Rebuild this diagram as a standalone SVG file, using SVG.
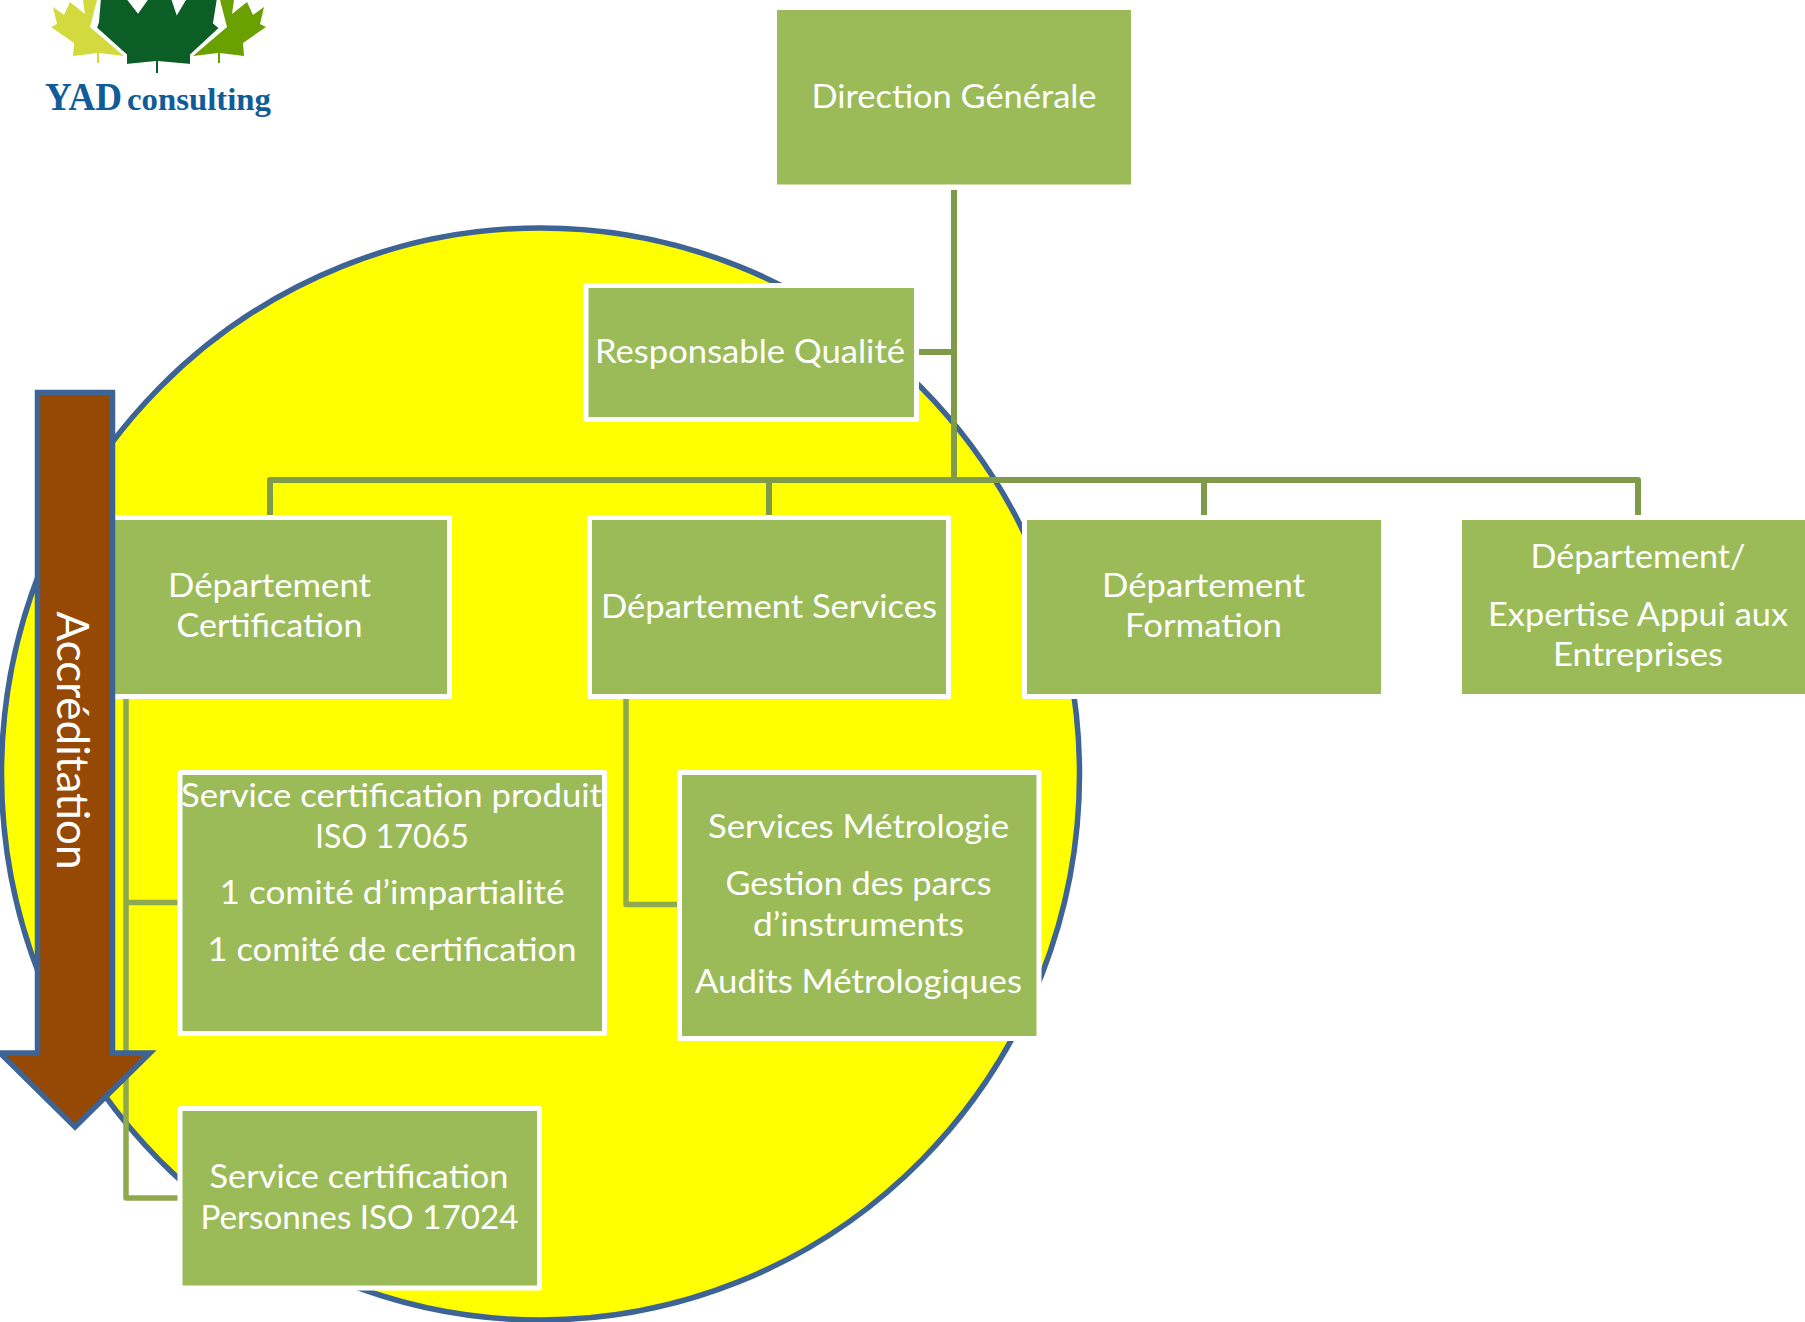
<svg xmlns="http://www.w3.org/2000/svg" width="1805" height="1322" viewBox="0 0 1805 1322">
<style>
.box{fill:#9bbb59;stroke:#fff;stroke-width:5;stroke-linejoin:round}
.t{fill:#fff;font-family:Lato,"Liberation Sans",sans-serif;font-size:33px;text-anchor:middle}
.c1{fill:none;stroke:#7f9a48;stroke-width:6;stroke-linejoin:round}
.c2{fill:none;stroke:#8fa94f;stroke-width:5.5;stroke-linejoin:round}
.blue{stroke:#3d6494;stroke-width:5.500}
</style>
<rect width="1805" height="1322" fill="#fff"/>
<ellipse id="zone" class="blue" cx="540.500" cy="774" rx="539" ry="546" fill="#ffff00"/>
<g id="logo">
<path fill="#d3da3e" d="M83 0L85 14L70 2L64 15L53 7L57 24L51 27L74 43L73 56L97 53L97 63L99 63L99 53L124 56L90 27L97 0Z"/>
<path fill="#6aa000" d="M234 0L232 14L247 2L253 15L264 7L260 24L266 27L243 43L244 56L220 53L220 63L218 63L218 53L193 56L227 27L220 0Z"/>
<path fill="#0b5e25" stroke="#fff" stroke-width="2" d="M100 -2L98 22L96 28L126 55L126 65L155 62L155 74L159 74L159 62L191 65L191 55L220 28L214 23L218 -2L186 -2L177 13L172 -2L148 -2L138 12L127 -2Z"/>
<text x="45" y="110" font-family="'Liberation Serif',serif" font-weight="700" font-size="39" fill="#0f5c98" textLength="77" lengthAdjust="spacingAndGlyphs">YAD</text>
<text x="127" y="110" font-family="'Liberation Serif',serif" font-weight="700" font-size="31" fill="#0f5c98" textLength="144" lengthAdjust="spacingAndGlyphs">consulting</text>
</g>
<g id="connectors">
<path class="c1" d="M954 190V480M919 352H954M270 516V480H1638V516M769 480V516M1204 480V516"/>
<path class="c2" d="M126 699V1198H178M126 902.500H178M626 699V904.500H678"/>
</g>
<g id="n1"><rect class="box" x="774.5" y="7.5" width="359" height="179.5"/><text class="t" x="954" y="107.500" textLength="285" lengthAdjust="spacingAndGlyphs">Direction Générale</text></g>
<g id="n2"><rect class="box" x="586" y="285.5" width="330.5" height="134"/><text class="t" x="750" y="363" textLength="310" lengthAdjust="spacingAndGlyphs">Responsable Qualité</text></g>
<g id="n3"><rect class="box" x="90.5" y="517.5" width="359" height="179"/><text class="t" x="269.500" y="597" textLength="203" lengthAdjust="spacingAndGlyphs">Département</text><text class="t" x="269.500" y="637" textLength="186" lengthAdjust="spacingAndGlyphs">Certification</text></g>
<g id="n4"><rect class="box" x="589.5" y="517.5" width="359" height="179"/><text class="t" x="769" y="618" textLength="336" lengthAdjust="spacingAndGlyphs">Département Services</text></g>
<g id="n5"><rect class="box" x="1024.5" y="517.5" width="359" height="179"/><text class="t" x="1203.500" y="597" textLength="203" lengthAdjust="spacingAndGlyphs">Département</text><text class="t" x="1203.500" y="637" textLength="157" lengthAdjust="spacingAndGlyphs">Formation</text></g>
<g id="n6"><rect class="box" x="1459.5" y="517.5" width="359" height="179"/><text class="t" x="1638" y="568" textLength="215" lengthAdjust="spacingAndGlyphs">Département/</text><text class="t" x="1638" y="626" textLength="300" lengthAdjust="spacingAndGlyphs">Expertise Appui aux</text><text class="t" x="1638" y="666" textLength="170" lengthAdjust="spacingAndGlyphs">Entreprises</text></g>
<g id="n7"><rect class="box" x="180" y="772.5" width="424.5" height="261"/><text class="t" x="391.500" y="807" textLength="421" lengthAdjust="spacingAndGlyphs">Service certification produit</text><text class="t" x="392" y="848" textLength="154" lengthAdjust="spacingAndGlyphs">ISO 17065</text><text class="t" x="392" y="904" textLength="345" lengthAdjust="spacingAndGlyphs">1 comité d’impartialité</text><text class="t" x="392" y="961" textLength="369" lengthAdjust="spacingAndGlyphs">1 comité de certification</text></g>
<g id="n8"><rect class="box" x="679.5" y="772.5" width="359.500" height="266"/><text class="t" x="858.500" y="838" textLength="301" lengthAdjust="spacingAndGlyphs">Services Métrologie</text><text class="t" x="858.500" y="895" textLength="266" lengthAdjust="spacingAndGlyphs">Gestion des parcs</text><text class="t" x="858.500" y="936" textLength="211" lengthAdjust="spacingAndGlyphs">d’instruments</text><text class="t" x="858.500" y="993" textLength="327" lengthAdjust="spacingAndGlyphs">Audits Métrologiques</text></g>
<g id="n9"><rect class="box" x="180" y="1108.5" width="359.500" height="179.5"/><text class="t" x="359" y="1188" textLength="299" lengthAdjust="spacingAndGlyphs">Service certification</text><text class="t" x="359.500" y="1229" textLength="318" lengthAdjust="spacingAndGlyphs">Personnes ISO 17024</text></g>
<g id="arrow"><polygon class="blue" fill="#964805" points="37.500,392.500 112.500,392.500 112.500,1053 150,1053 75,1127 0,1053 37.500,1053"/><text transform="translate(57 740.500) rotate(90)" fill="#fff" font-family="Lato,'Liberation Sans',sans-serif" font-size="44" text-anchor="middle" textLength="258" lengthAdjust="spacingAndGlyphs">Accréditation</text></g>
</svg>
